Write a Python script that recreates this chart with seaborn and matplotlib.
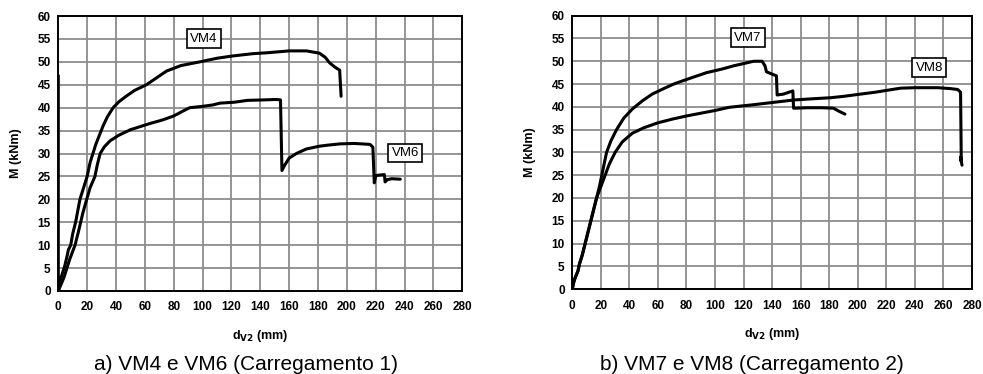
import matplotlib
matplotlib.use("Agg")
import matplotlib.pyplot as plt
import seaborn as sns
import pandas as pd

# VM4 / VM6 (Carregamento 1)
vm4_d = [0, 0, 1, 2, 3, 4.5, 6, 7, 8.6, 10, 12, 15, 18, 20, 22, 24, 26, 28.5, 31, 34, 38, 42, 47,
         53, 61, 68, 75, 85, 98, 110, 121, 135, 145, 160, 172, 181, 185, 188, 192, 195, 196]
vm4_m = [47, 0, 1.5, 3, 4, 5.5, 7.5, 9, 10, 12.5, 15, 20, 23, 25, 28, 30, 32, 34, 36, 38, 40, 41.3,
         42.5, 43.8, 45, 46.5, 48, 49.2, 50, 50.8, 51.3, 51.8, 52, 52.4, 52.4, 51.9, 51, 49.8,
         48.8, 48.2, 42.5]

vm6_d = [0, 2, 4, 6, 8, 11.6, 14, 17, 19.7, 22, 25.4, 27, 29, 32, 36, 42, 50, 58, 64, 72, 80, 86,
         91, 100, 107, 112, 122, 131, 142, 151, 154, 155, 157, 160, 165, 172, 181, 186, 195, 205,
         216, 218, 219, 220, 226, 226.5, 228, 231, 237]
vm6_m = [0, 1.5, 3, 5, 7, 10, 13, 17, 20, 22.5, 25, 27.5, 30, 31.5, 32.8, 34, 35.2, 36, 36.6, 37.3,
         38.2, 39.2, 40, 40.3, 40.6, 41, 41.2, 41.6, 41.7, 41.8, 41.7, 26.3, 27.5, 29, 30, 31,
         31.6, 31.8, 32.1, 32.2, 32.0, 31.4, 23.6, 25.2, 25.4, 23.8, 24.3, 24.5, 24.4]

# VM7 / VM8 (Carregamento 2)
vm7_d = [0, 1, 2, 4, 5, 7, 9, 11, 13, 15, 17, 19, 20, 22, 24, 27, 31, 36, 42, 49, 56, 64, 71, 80,
         94, 105, 113, 120, 127, 133, 135, 136, 139, 143, 143.5, 148, 154.5, 155, 165, 175, 183,
         187, 191]
vm7_m = [0, 1.5, 2.5, 4, 5.5, 7.5, 10, 12.5, 15, 17.5, 20, 22.5, 24, 27, 30, 32.5, 35, 37.5, 39.5,
         41.3, 42.8, 44, 45, 46, 47.5, 48.3, 49, 49.5, 50, 50, 49, 47.7, 47.3, 46.8, 42.6, 42.8,
         43.5, 39.7, 39.8, 39.8, 39.7, 39, 38.4]

vm8_d = [0, 1, 2, 4, 5, 7, 9, 11, 13, 15, 17, 20, 23, 26, 30, 35, 42, 50, 60, 70, 80, 90, 100, 110,
         125, 136, 155, 170, 181, 190, 202, 212, 220, 230, 240, 256, 265, 270, 272, 272.5, 272, 273]
vm8_m = [0, 1.5, 2.5, 4, 5.5, 7.5, 10, 12.5, 15, 17.5, 20, 22.5, 25, 27.5, 30, 32.3, 34.2, 35.4,
         36.5, 37.3, 38, 38.6, 39.2, 39.9, 40.4, 40.8, 41.5, 41.8, 42, 42.3, 42.8, 43.2, 43.6,
         44.1, 44.2, 44.2, 44, 43.8, 43.2, 28, 29, 27.2]

x_ticks = list(range(0, 281, 20))
y_ticks = list(range(0, 61, 5))

panels = [
    {"series": [("VM4", vm4_d, vm4_m), ("VM6", vm6_d, vm6_m)],
     "labels": [("VM4", 101, 55.1), ("VM6", 240.5, 30.1)],
     "caption": "a) VM4 e VM6 (Carregamento 1)",
     "rect": [0.0593, 0.222, 0.411, 0.735], "cap_x": 246 / 983},
    {"series": [("VM7", vm7_d, vm7_m), ("VM8", vm8_d, vm8_m)],
     "labels": [("VM7", 122.8, 55.2), ("VM8", 250, 48.6)],
     "caption": "b) VM7 e VM8 (Carregamento 2)",
     "rect": [0.5822, 0.227, 0.4066, 0.731], "cap_x": 752 / 983},
]

sns.set_style("white")
plt.rcParams['font.family'] = ['Liberation Sans', 'DejaVu Sans']
plt.rcParams['text.color'] = 'black'
plt.rcParams['axes.labelcolor'] = 'black'

fig = plt.figure(figsize=(9.83, 3.74), dpi=100)

for p in panels:
    ax = fig.add_axes(p["rect"])
    for name, d, m in p["series"]:
        df = pd.DataFrame({"d": d, "M": m})
        sns.lineplot(data=df, x="d", y="M", sort=False, estimator=None,
                     color="black", linewidth=2.2, ax=ax, zorder=3)
    for txt, xv, yv in p["labels"]:
        ax.text(xv, yv, txt, ha="center", va="center", fontsize=9.5, zorder=4,
                bbox=dict(boxstyle="square,pad=0.25", facecolor="white",
                          edgecolor="black", linewidth=1.2))

    ax.set_xlim(0, 280)
    ax.set_ylim(0, 60)
    ax.set_xticks(x_ticks)
    ax.set_yticks(y_ticks)
    ax.grid(True, color="#8c8c8c", linewidth=1.3, zorder=0)
    ax.set_axisbelow(True)
    for s in ax.spines.values():
        s.set_color("black")
        s.set_linewidth(1.4)
    ax.tick_params(axis="both", direction="inout", length=5, width=1.2,
                   labelsize=8.5, colors="black")
    ax.tick_params(axis="x", pad=5)
    ax.tick_params(axis="y", pad=3)
    for lbl in ax.get_xticklabels() + ax.get_yticklabels():
        lbl.set_fontweight("bold")

    ax.set_xlabel("d$_{\\mathbf{V2}}$ (mm)", fontsize=9, fontweight="bold")
    ax.set_ylabel("M (kNm)", fontsize=9, fontweight="bold")
    ax.xaxis.set_label_coords(0.5, -0.135)
    ax.yaxis.set_label_coords(-0.09, 0.5)

    fig.text(p["cap_x"], 1 - 365 / 374, p["caption"], ha="center", va="center",
             fontsize=15, color="black")

fig.savefig("out.png", dpi=100)
